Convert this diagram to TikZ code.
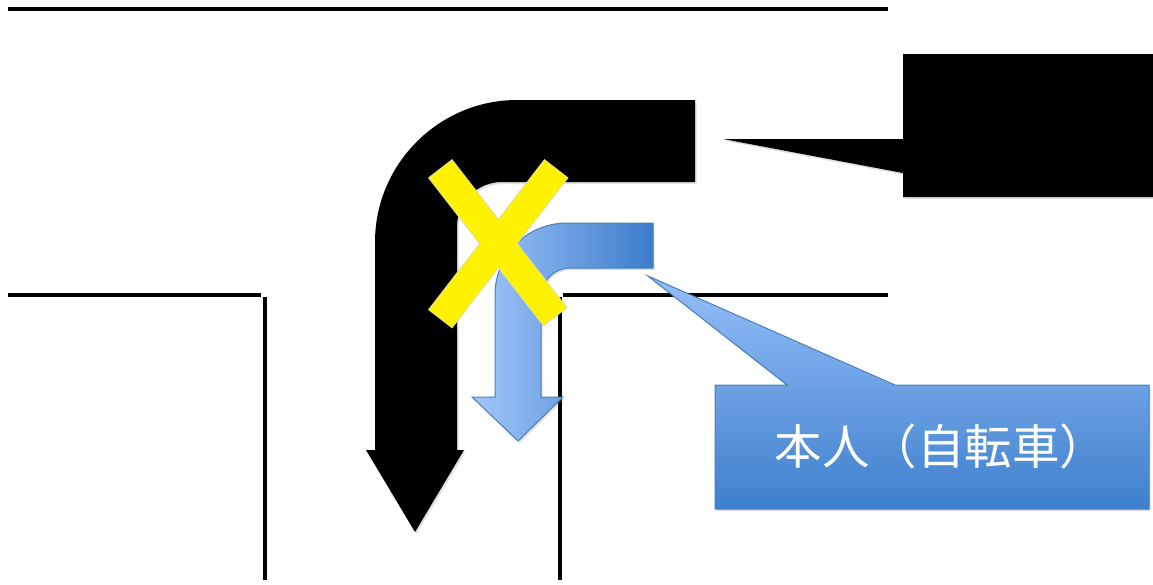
\documentclass[tikz,border=0pt]{standalone}
\usepackage{fontspec}
\newfontfamily\cjk{Noto Sans CJK JP}
\usetikzlibrary{shadows}
\definecolor{bluelight}{HTML}{A2C7FA}
\definecolor{bluedark}{HTML}{3B7CCB}
\definecolor{blueedge}{HTML}{4A7EBB}
\definecolor{boxtop}{HTML}{95BFF8}
\definecolor{boxmid}{HTML}{87B3F1}
\definecolor{boxbot}{HTML}{3E80CD}
\definecolor{xedge}{HTML}{D4D4D4}
\tikzset{
  road/.style={line width=4pt, black},
  shad/.style={drop shadow={opacity=0.25, shadow xshift=1.5pt, shadow yshift=-2pt}},
  blackarrow/.style={fill=black, shad},
  bluearrow/.style={draw=blueedge, line width=1pt, left color=bluelight, right color=bluedark, shad},
  bluecallout/.style={draw=blueedge, line width=1pt, top color=boxtop, middle color=boxmid, bottom color=boxbot, shad},
  blackcallout/.style={fill=black, shad},
  xbar/.style={fill=yellow, draw=xedge, line width=1.5pt},
  xfill/.style={fill=yellow},
  labeltext/.style={text=white, font=\cjk\fontsize{47.5}{52}\selectfont, inner sep=0pt}
}
\begin{document}
\begin{tikzpicture}[x=1pt,y=-1pt]
\useasboundingbox (0,0) rectangle (1153,584);
% roads
\draw[road] (8,9) -- (888,9);
\draw[road] (8,295) -- (261,295);
\draw[road] (265,297) -- (265,580);
\draw[road] (563,295) -- (888,295);
\draw[road] (560,297) -- (560,580);
% black bent arrow
\path[blackarrow] (695,100) -- (517,100) .. controls (439,100) and (375,164) .. (375,242)
  -- (375,450) -- (366,450) -- (415,532) -- (464,450) -- (457,450) -- (457,227)
  .. controls (457,202) and (477,182) .. (502,182) -- (695,182) -- cycle;
% blue bent arrow
\path[bluearrow] (653,223) -- (567,223) .. controls (527,223) and (495,255) .. (495,295)
  -- (495,397) -- (472,397) -- (518,441) -- (563,397) -- (541,397) -- (541,297)
  .. controls (541,281) and (554,268) .. (570,268) -- (653,268) -- cycle;
% black callout
\coordinate (btip) at (723,139);
\path[blackcallout] (903,54) -- (1153,54) -- (1153,197) -- (903,197) -- (903,173) -- (btip) -- (903,139) -- cycle;
% blue callout
\coordinate (ctip) at (648,276);
\path[bluecallout] (715,385) -- (787,385) -- (ctip) -- (895,385) -- (1149,385) -- (1149,509) -- (715,509) -- cycle;
\node[labeltext] (label) at (941,446) {本人（自転車）};
% yellow X
\path[xbar] (452,160.1) -- (429,177.9) -- (543.5,325.4) -- (566.5,307.6) -- cycle;
\path[xbar] (567.5,177.9) -- (544.5,160.1) -- (429,309.6) -- (452,327.4) -- cycle;
\path[xfill] (452,160.1) -- (429,177.9) -- (543.5,325.4) -- (566.5,307.6) -- cycle;
\path[xfill] (567.5,177.9) -- (544.5,160.1) -- (429,309.6) -- (452,327.4) -- cycle;
\end{tikzpicture}
\end{document}
